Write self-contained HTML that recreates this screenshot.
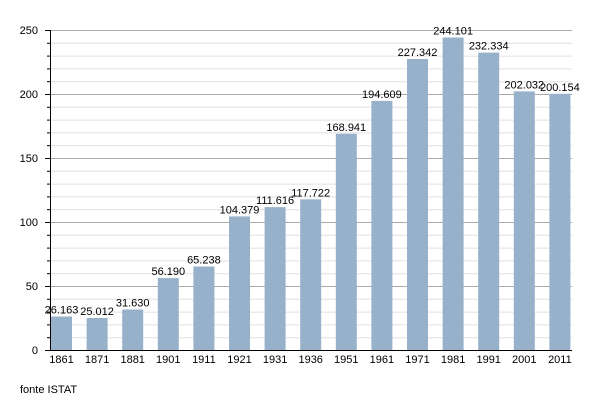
<!DOCTYPE html>
<html><head><style>body{margin:0;background:#fff}svg{display:block}</style></head><body>
<svg width="600" height="400" xmlns="http://www.w3.org/2000/svg" font-family="Liberation Sans, sans-serif" font-size="11">
<rect width="600" height="400" fill="#fff"/>
<g stroke="#e0e0e0" stroke-width="1">
<line x1="50" x2="572" y1="337.7" y2="337.7"/><line x1="50" x2="572" y1="324.9" y2="324.9"/><line x1="50" x2="572" y1="312.1" y2="312.1"/><line x1="50" x2="572" y1="299.3" y2="299.3"/>
<line x1="50" x2="572" y1="273.7" y2="273.7"/><line x1="50" x2="572" y1="260.9" y2="260.9"/><line x1="50" x2="572" y1="248.1" y2="248.1"/><line x1="50" x2="572" y1="235.3" y2="235.3"/>
<line x1="50" x2="572" y1="209.7" y2="209.7"/><line x1="50" x2="572" y1="196.9" y2="196.9"/><line x1="50" x2="572" y1="184.1" y2="184.1"/><line x1="50" x2="572" y1="171.3" y2="171.3"/>
<line x1="50" x2="572" y1="145.7" y2="145.7"/><line x1="50" x2="572" y1="132.9" y2="132.9"/><line x1="50" x2="572" y1="120.1" y2="120.1"/><line x1="50" x2="572" y1="107.3" y2="107.3"/>
<line x1="50" x2="572" y1="81.7" y2="81.7"/><line x1="50" x2="572" y1="68.9" y2="68.9"/><line x1="50" x2="572" y1="56.1" y2="56.1"/><line x1="50" x2="572" y1="43.3" y2="43.3"/>
</g>
<g stroke="#aaa" stroke-width="1">
<line x1="50" x2="572" y1="286.5" y2="286.5"/><line x1="50" x2="572" y1="222.5" y2="222.5"/><line x1="50" x2="572" y1="158.5" y2="158.5"/><line x1="50" x2="572" y1="94.5" y2="94.5"/><line x1="50" x2="572" y1="30.5" y2="30.5"/>
</g>
<g fill="#97b1cb" id="bars"></g>
<g id="labels" fill="#000" text-anchor="middle"></g>
<g stroke="#000" stroke-width="1" id="ticks">
<line x1="50.5" x2="50.5" y1="30" y2="351"/><line x1="50" x2="572" y1="350.5" y2="350.5"/>
</g>
<g text-anchor="end" font-size="11">
<text x="38" y="354">0</text><text x="38" y="290">50</text><text x="38" y="226">100</text><text x="38" y="162">150</text><text x="38" y="98">200</text><text x="38" y="34">250</text>
</g>
<text x="20" y="393" font-size="11">fonte ISTAT</text>
<script>
var d=[["1861",26.163],["1871",25.012],["1881",31.630],["1901",56.190],["1911",65.238],["1921",104.379],["1931",111.616],["1936",117.722],["1951",168.941],["1961",194.609],["1971",227.342],["1981",244.101],["1991",232.334],["2001",202.032],["2011",200.154]];
var ns="http://www.w3.org/2000/svg",b=document.getElementById('bars'),l=document.getElementById('labels'),t=document.getElementById('ticks');
function el(p,n,a,tx){var e=document.createElementNS(ns,n);for(var k in a)e.setAttribute(k,a[k]);if(tx)e.textContent=tx;p.appendChild(e);}
d.forEach(function(v,i){var x=51+35.6*i,h=v[1]*1.28,y=350-h;
el(b,'rect',{x:x,y:y,width:21,height:h});
el(l,'text',{x:x+10.5,y:y-3},v[1].toFixed(3));
el(l,'text',{x:x+10.5,y:363},v[0]);});
for(var k=0;k<=25;k++){var y=350-k*12.8+0.5;el(t,'line',{x1:k%5?47:45,x2:50,y1:y,y2:y});}
</script>
</svg>
</body></html>
